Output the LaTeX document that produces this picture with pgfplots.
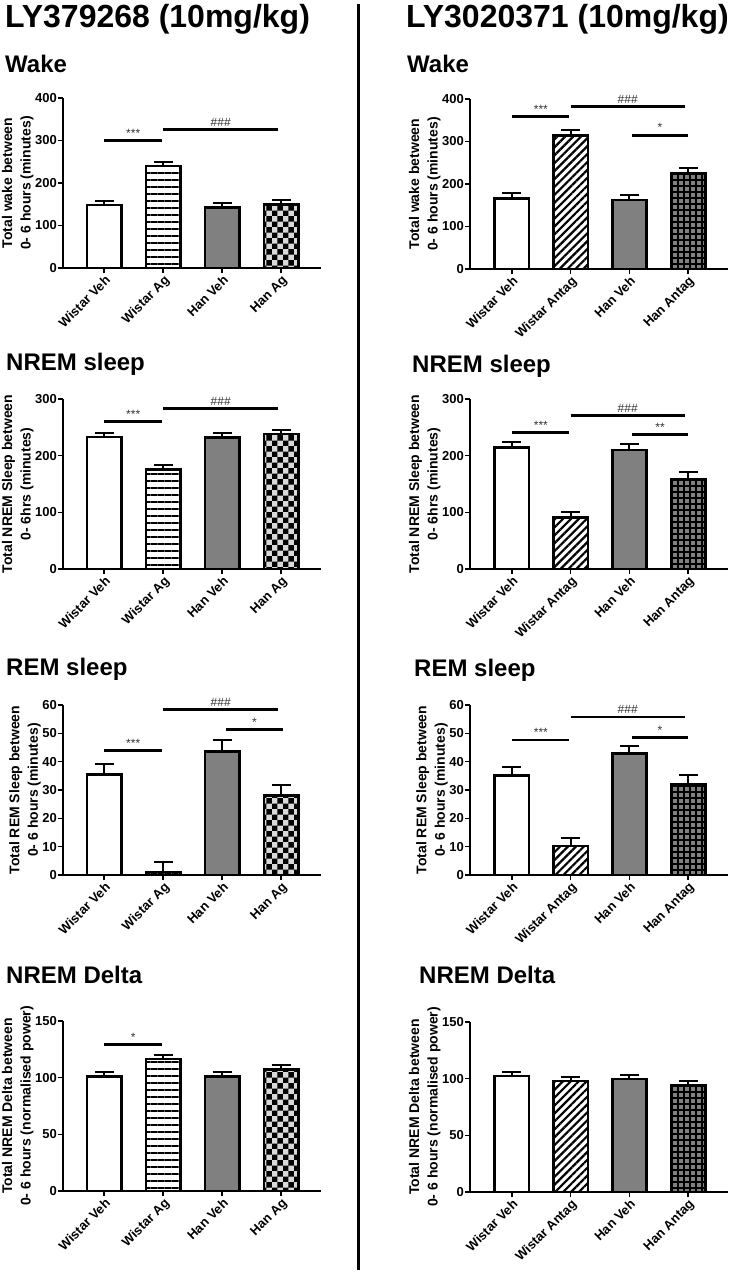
\documentclass[border=0pt]{standalone}
\usepackage{fontspec}
\setmainfont{Liberation Sans}
\usepackage{pgfplots}
\pgfplotsset{compat=1.18}
\usetikzlibrary{patterns,patterns.meta}

\definecolor{midgray}{HTML}{808080}

\pgfplotsset{
  panel/.style={
    scale only axis, width=258pt, height=170pt, anchor=south west,
    xmin=-0.7, xmax=3.675, ymin=0, clip=false,
    axis x line*=bottom, axis y line*=left,
    axis line style={line width=1.6pt},
    xtick={0,1,2,3}, tick align=outside, major tick length=5pt,
    every tick/.style={black, line width=1.6pt},
    tick label style={font=\bfseries\fontsize{13}{13}\selectfont},
    /pgf/number format/assume math mode=true,
    x tick label style={rotate=45, anchor=north east, inner sep=1pt},
    y tick label style={inner sep=1pt},
    ylabel shift=-3pt,
    ylabel style={align=center, font=\bfseries\fontsize{14}{18.5}\selectfont},
  },
  mybar/.style={ybar, bar width=34.5pt, bar shift=0pt, draw=black, line width=2.6pt,
    error bars/y dir=plus, error bars/y explicit,
    error bars/error bar style={line width=2pt, black},
    error bars/error mark options={rotate=90, line width=2pt, mark size=9.5pt, black}},
  wv/.style={mybar, fill=white},
  ag/.style={mybar, pattern={Lines[angle=0,distance=7pt,line width=2.3pt]}},
  hv/.style={mybar, fill=midgray},
  hag/.style={mybar, fill=black!15, postaction={pattern=checkerboard}},
  an/.style={mybar, pattern={Lines[angle=45,distance=5.6pt,line width=2.2pt]}},
  han/.style={mybar, fill=midgray, postaction={pattern={Hatch[angle=0,distance=6pt,line width=2pt]}}},
}
% significance bar: from, to, height, text
\newcommand{\sig}[4]{\draw[line width=2.6pt] (axis cs:#1,#3) -- (axis cs:#2,#3)
  node[midway, above, inner sep=2pt, text=black!80, font=\fontsize{12}{12}\selectfont] {#4};}

\begin{document}
\begin{tikzpicture}
\useasboundingbox (0pt,0pt) rectangle (733pt,-1272pt);

% column titles and divider
\node[anchor=base west, inner sep=0pt, font=\bfseries\fontsize{32}{32}\selectfont] at (5pt,-27pt) {LY379268 (10mg/kg)};
\node[anchor=base west, inner sep=0pt, font=\bfseries\fontsize{32}{32}\selectfont] at (406pt,-27pt) {LY3020371 (10mg/kg)};
\draw[line width=2.8pt] (358.5pt,-4pt) -- (358.5pt,-1270pt);

% panel titles
\tikzset{ptitle/.style={anchor=base west, inner sep=0pt, font=\bfseries\fontsize{24}{24}\selectfont}}
\node[ptitle] at (5pt,-72pt) {Wake};
\node[ptitle] at (6pt,-370pt) {NREM sleep};
\node[ptitle] at (6pt,-675pt) {REM sleep};
\node[ptitle] at (6pt,-983pt) {NREM Delta};
\node[ptitle] at (407pt,-72pt) {Wake};
\node[ptitle] at (412pt,-372pt) {NREM sleep};
\node[ptitle] at (414pt,-676pt) {REM sleep};
\node[ptitle] at (419pt,-983pt) {NREM Delta};

%% ---------- left column: LY379268 ----------
\begin{axis}[panel, at={(63pt,-268pt)}, ymax=400, ytick={0,100,...,400},
  xticklabels={Wistar Veh, Wistar Ag, Han Veh, Han Ag},
  ylabel={Total wake between\\0- 6 hours (minutes)}]
\addplot[wv]  coordinates {(0,148) +- (0,9)};
\addplot[ag]  coordinates {(1,240) +- (0,9)};
\addplot[hv]  coordinates {(2,143) +- (0,11)};
\addplot[hag] coordinates {(3,150) +- (0,9)};
\sig{0}{0.98}{300}{***}
\sig{1.0}{2.95}{326}{\#\#\#}
\end{axis}

\begin{axis}[panel, at={(63pt,-569pt)}, ymax=300, ytick={0,100,...,300},
  xticklabels={Wistar Veh, Wistar Ag, Han Veh, Han Ag},
  ylabel={Total NREM Sleep between\\0- 6hrs (minutes)}]
\addplot[wv]  coordinates {(0,233) +- (0,7)};
\addplot[ag]  coordinates {(1,176) +- (0,8)};
\addplot[hv]  coordinates {(2,232) +- (0,8)};
\addplot[hag] coordinates {(3,238) +- (0,8)};
\sig{0}{0.98}{260}{***}
\sig{1.0}{2.95}{283}{\#\#\#}
\end{axis}

\begin{axis}[panel, at={(63pt,-875pt)}, ymax=60, ytick={0,10,...,60},
  xticklabels={Wistar Veh, Wistar Ag, Han Veh, Han Ag},
  ylabel={Total REM Sleep between\\0- 6 hours (minutes)}]
\addplot[wv]  coordinates {(0,35.5) +- (0,3.6)};
\addplot[ag]  coordinates {(1,1.0) +- (0,3.7)};
\addplot[hv]  coordinates {(2,43.6) +- (0,4.0)};
\addplot[hag] coordinates {(3,28.0) +- (0,3.9)};
\sig{0}{0.98}{44}{***}
\sig{1.0}{2.95}{58.4}{\#\#\#}
\sig{2.06}{3.03}{51.3}{*}
\end{axis}

\begin{axis}[panel, at={(63pt,-1191pt)}, ymax=150, ytick={0,50,...,150},
  xticklabels={Wistar Veh, Wistar Ag, Han Veh, Han Ag},
  ylabel={Total NREM Delta between\\0- 6 hours (normalised power)}]
\addplot[wv]  coordinates {(0,101) +- (0,4)};
\addplot[ag]  coordinates {(1,116.5) +- (0,3.2)};
\addplot[hv]  coordinates {(2,101) +- (0,4)};
\addplot[hag] coordinates {(3,107.4) +- (0,3.5)};
\sig{0}{0.98}{129.4}{*}
\end{axis}

%% ---------- right column: LY3020371 ----------
\begin{axis}[panel, at={(470pt,-269pt)}, xmin=-0.71, ymax=400, ytick={0,100,...,400},
  xticklabels={Wistar Veh, Wistar Antag, Han Veh, Han Antag},
  ylabel={Total wake between\\0- 6 hours (minutes)}]
\addplot[wv]  coordinates {(0,165.5) +- (0,12.5)};
\addplot[an]  coordinates {(1,314) +- (0,12)};
\addplot[hv]  coordinates {(2,162.4) +- (0,12.6)};
\addplot[han] coordinates {(3,225) +- (0,13)};
\sig{0.01}{0.98}{358.5}{***}
\sig{1.0}{2.94}{382}{\#\#\#}
\sig{2.04}{3.0}{314.7}{*}
\end{axis}

\begin{axis}[panel, at={(470pt,-569pt)}, xmin=-0.71, ymax=300, ytick={0,100,...,300},
  xticklabels={Wistar Veh, Wistar Antag, Han Veh, Han Antag},
  ylabel={Total NREM Sleep between\\0- 6hrs (minutes)}]
\addplot[wv]  coordinates {(0,214) +- (0,10)};
\addplot[an]  coordinates {(1,91) +- (0,9)};
\addplot[hv]  coordinates {(2,210) +- (0,10)};
\addplot[han] coordinates {(3,158.5) +- (0,12.5)};
\sig{0.01}{0.98}{240.6}{***}
\sig{1.0}{2.94}{270.6}{\#\#\#}
\sig{2.04}{3.0}{237}{**}
\end{axis}

\begin{axis}[panel, at={(470pt,-875pt)}, xmin=-0.71, ymax=60, ytick={0,10,...,60},
  xticklabels={Wistar Veh, Wistar Antag, Han Veh, Han Antag},
  ylabel={Total REM Sleep between\\0- 6 hours (minutes)}]
\addplot[wv]  coordinates {(0,35.1) +- (0,2.9)};
\addplot[an]  coordinates {(1,10.2) +- (0,2.9)};
\addplot[hv]  coordinates {(2,42.8) +- (0,2.9)};
\addplot[han] coordinates {(3,31.9) +- (0,3.5)};
\sig{0.01}{0.98}{47.6}{***}
\sig{1.0}{2.94}{55.8}{\#\#\#}
\sig{2.04}{3.0}{48.5}{*}
\end{axis}

\begin{axis}[panel, at={(470pt,-1192pt)}, xmin=-0.71, ymax=150, ytick={0,50,...,150},
  xticklabels={Wistar Veh, Wistar Antag, Han Veh, Han Antag},
  ylabel={Total NREM Delta between\\0- 6 hours (normalised power)}]
\addplot[wv]  coordinates {(0,102.5) +- (0,3.2)};
\addplot[an]  coordinates {(1,98) +- (0,3.6)};
\addplot[hv]  coordinates {(2,99.8) +- (0,3.5)};
\addplot[han] coordinates {(3,94) +- (0,3.8)};
\end{axis}
\end{tikzpicture}
\end{document}
